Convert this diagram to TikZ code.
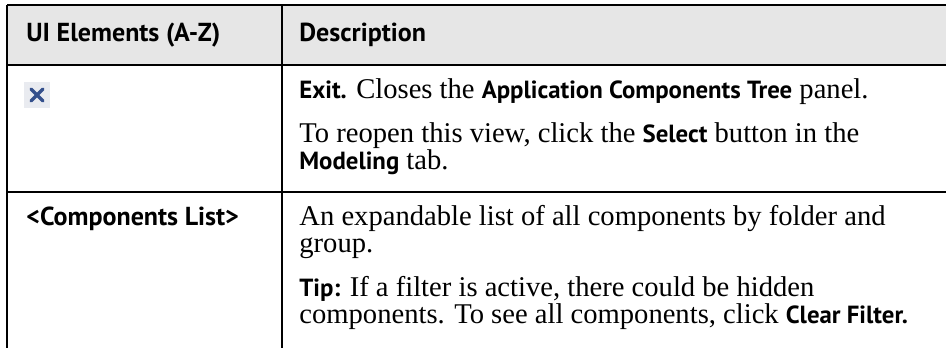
\documentclass[tikz,border=0pt]{standalone}
\usepackage{fontspec}
\setmainfont{Liberation Serif}
\newfontfamily\uisans{PT Sans}
\usetikzlibrary{positioning}
\definecolor{tableHead}{RGB}{230,230,230}
\definecolor{tableRule}{RGB}{0,0,0}
\definecolor{iconBlue}{RGB}{52,80,140}
\definecolor{iconBack}{RGB}{233,235,240}

%% bold sans run inside the serif body text
\newcommand{\uib}[1]{{\uisans\bfseries\fontsize{12.4}{13}\selectfont #1}}

\begin{document}
\begin{tikzpicture}[x=0.5pt, y=-0.5pt,
  headlabel/.style={font=\uisans\bfseries\fontsize{13}{14}\selectfont, anchor=base west, inner sep=0pt},
  celltext/.style={font=\fontsize{14.3}{13}\selectfont, anchor=base west, inner sep=0pt},
  iconbox/.style={fill=iconBack, minimum size=13pt, inner sep=0pt},
  rule/.style={tableRule, line width=1pt},
]
\useasboundingbox (0,0) rectangle (946,348);

%% ── grid: 1 unit = 1 reference pixel, y grows downwards ──
\def\tL{7}        % left border
\def\tC{282}      % column divider
\def\tR{946}      % right end of the rules
\def\yTop{5}      % top rule
\def\yHead{65}    % header bottom
\def\yRow{192}    % row divider
\def\xA{26}       % text x, first column
\def\xB{299}      % text x, second column

%% ── header band and rules ────────────────────────────────
\fill[tableHead] (\tL,\yTop) rectangle (\tR,\yHead);
\draw[rule] (\tL,\yTop) -- (\tR,\yTop);
\draw[rule] (\tL,\yHead) -- (\tR,\yHead);
\draw[rule] (\tL,\yRow) -- (\tR,\yRow);
\draw[rule] (\tL,4.5) -- (\tL,348);
\draw[rule] (\tC,4.5) -- (\tC,348);

%% ── header labels ────────────────────────────────────────
\node[headlabel] (hElem) at (\xA,41) {UI Elements (A-Z)};
\node[headlabel] (hDesc) at (\xB,41) {Description};

%% ── row 1: exit button ───────────────────────────────────
\node[iconbox] (exitIcon) at (37,95) {};
\draw[iconBlue, line width=1.6pt, line cap=round]
  ([shift={(-6,-6)}]exitIcon.center) -- ([shift={(6,6)}]exitIcon.center)
  ([shift={(6,-6)}]exitIcon.center) -- ([shift={(-6,6)}]exitIcon.center);
\node[celltext] (exitLine) at (\xB,98)
  {\uib{Exit.} Closes the \uib{Application Components Tree} panel.};
\node[celltext] (reopenA) at (\xB,142)
  {To reopen this view, click the \uib{Select} button in the};
\node[celltext] (reopenB) at (\xB,169) {\uib{Modeling} tab.};

%% ── row 2: components list ───────────────────────────────
\node[headlabel] (compName) at (\xA,225) {<Components List>};
\node[celltext] (listA) at (\xB,225)
  {An expandable list of all components by folder and};
\node[celltext] (listB) at (\xB,252) {group.};
\node[celltext] (tipA) at (\xB,296)
  {\uib{Tip:} If a filter is active, there could be hidden};
\node[celltext] (tipB) at (\xB,323)
  {components. To see all components, click \uib{Clear Filter.}};

\end{tikzpicture}
\end{document}
